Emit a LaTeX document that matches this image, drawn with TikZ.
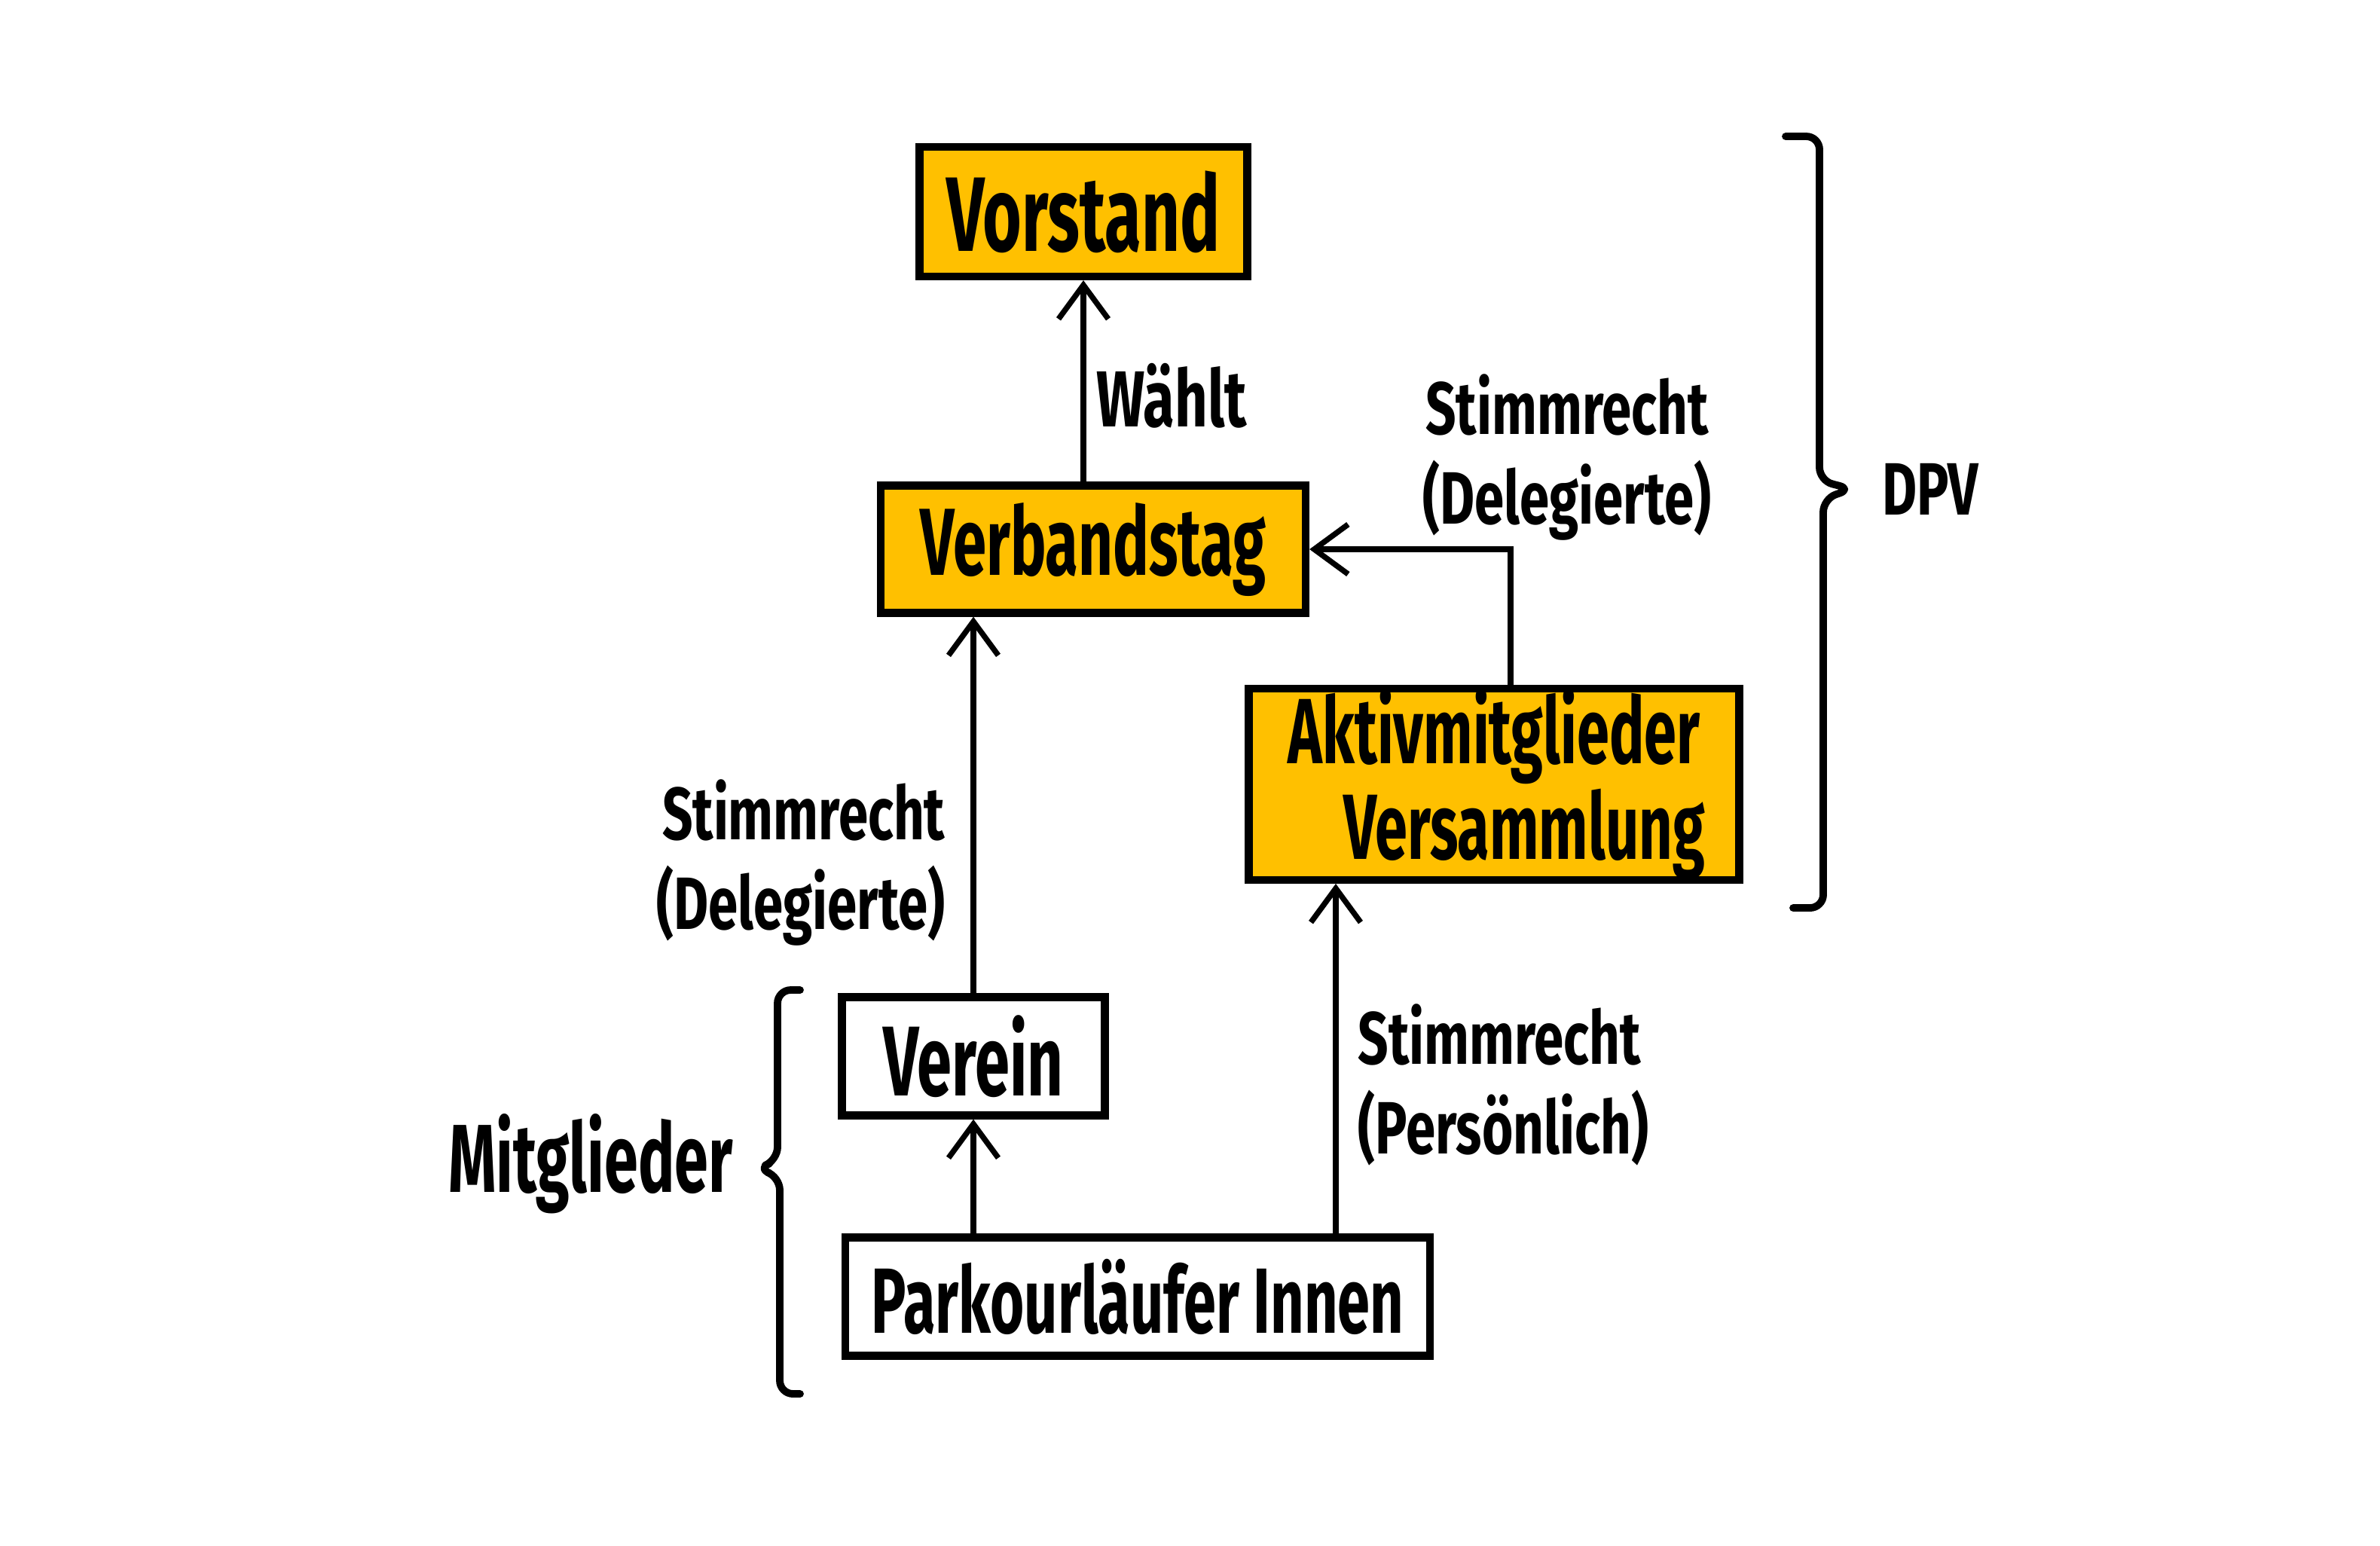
\documentclass[tikz,border=0pt]{standalone}
\usepackage{fontspec}
\setmainfont[FakeStretch=0.63]{Fira Sans}
\newfontfamily\lblfont[FakeStretch=0.72]{Fira Sans}
\usetikzlibrary{arrows.meta,positioning,calc}
\definecolor{dpvorange}{RGB}{255,192,0}
\tikzset{
  box/.style={draw=black, line width=2.9pt, inner sep=0pt, align=center},
  orangebox/.style={box, fill=dpvorange},
  conn/.style={line width=2.1pt, -{Straight Barb[length=0.45cm,width=0.66cm,line width=2.1pt]}},
  bracepath/.style={line width=2.8pt, rounded corners=5pt, line cap=round, line join=round},
  lbl/.style={inner sep=0pt, font=\lblfont\bfseries\fontsize{28}{34}\selectfont}
}
\begin{document}
\begin{tikzpicture}
\useasboundingbox (0,0) rectangle (31.59,-20.51);
% boxes
\node[orangebox, minimum width=4.35cm, minimum height=1.72cm, font=\bfseries\fontsize{40}{44}\selectfont] (vorstand) at (14.38,-2.81) {Vorstand};
\node[orangebox, minimum width=5.64cm, minimum height=1.69cm, font=\bfseries\fontsize{36}{44}\selectfont] (verband) at (14.51,-7.29) {Verbandstag};
\node[orangebox, minimum width=6.51cm, minimum height=2.06cm, font=\bfseries\fontsize{35}{40}\selectfont] (aktiv) at (19.83,-10.41) {Aktivmitglieder\\[-4pt]\hspace*{0.8cm}Versammlung};
\node[box, fill=white, minimum width=3.49cm, minimum height=1.57cm, font=\bfseries\fontsize{37.5}{40}\selectfont] (verein) at (12.92,-14.02) {Verein};
\node[box, fill=white, minimum width=7.76cm, minimum height=1.57cm, font=\bfseries\fontsize{35}{40}\selectfont] (parkour) at (15.10,-17.21) {Parkourläufer Innen};
% helper coordinates
\coordinate (ax) at (17.73,0);
\coordinate (vx) at (20.05,0);
% connectors
\draw[conn] (vorstand.south |- verband.north) -- (vorstand.south);
\draw[conn] (aktiv.north -| vx) |- (verband.east);
\draw[conn] (verein.north) -- (verein.north |- verband.south);
\draw[conn] (verein.south |- parkour.north) -- (verein.south);
\draw[conn] (parkour.north -| ax) -- (aktiv.south -| ax);
% labels
\node[lbl, anchor=west, font=\lblfont\bfseries\fontsize{30}{34}\selectfont] (waehlt) at (14.55,-5.25) {Wählt};
\node[lbl, align=center] (stimmA) at (20.8,-6.07) {Stimmrecht\\(Delegierte)};
\node[lbl, align=right, anchor=east] (stimmB) at (12.55,-11.45) {Stimmrecht\\(Delegierte)};
\node[lbl, align=left, anchor=west] (stimmC) at (18.02,-14.40) {Stimmrecht\\(Persönlich)};
% braces
\draw[bracepath] (23.70,-1.81) -- (24.15,-1.81) -- (24.15,-6.38) -- (24.58,-6.49) -- (24.20,-6.62) -- (24.20,-12.05) -- (23.80,-12.05);
\node[lbl] (dpv) at (25.62,-6.49) {DPV};
\draw[bracepath] (10.62,-13.14) -- (10.32,-13.14) -- (10.32,-15.40) -- (10.05,-15.51) -- (10.35,-15.62) -- (10.35,-18.50) -- (10.62,-18.50);
\node[inner sep=0pt, font=\bfseries\fontsize{36.5}{40}\selectfont] (mitglieder) at (7.84,-15.45) {Mitglieder};
\end{tikzpicture}
\end{document}
